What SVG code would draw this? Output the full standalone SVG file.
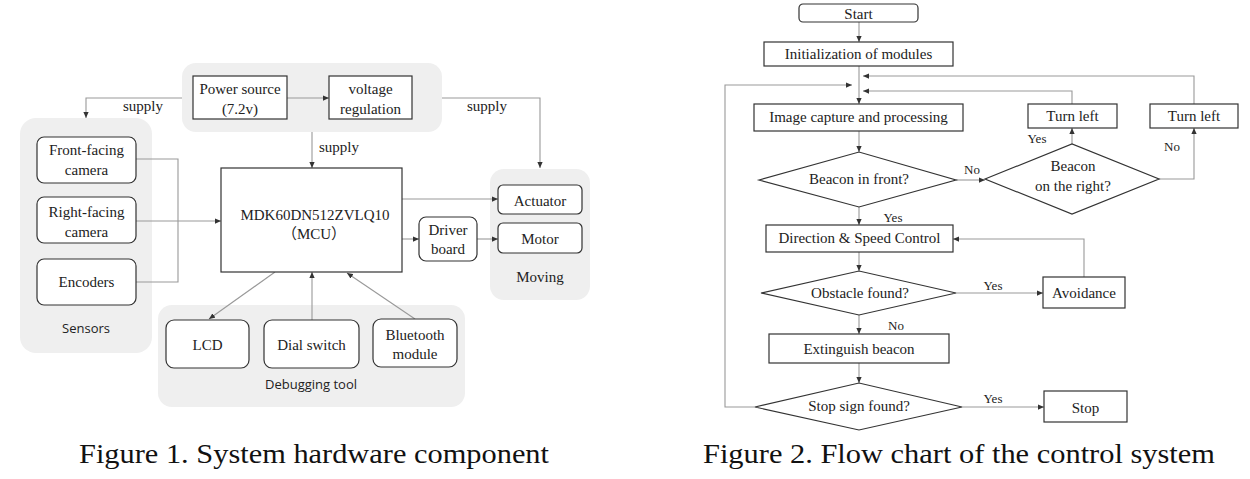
<svg xmlns="http://www.w3.org/2000/svg" width="1250" height="479" viewBox="0 0 1250 479">
<defs>
<style>
.bg{fill:#efefef;stroke:none}
.bx{fill:#fff;stroke:#333;stroke-width:1.2}
.ln{fill:none;stroke:#999;stroke-width:1.1}
.t{font-family:"Liberation Serif","Times New Roman",serif;font-size:15px;fill:#222;text-anchor:middle}
.s{font-family:"Open Sans","Liberation Sans",sans-serif;font-size:13px;fill:#222;text-anchor:middle}
.l{font-family:"Liberation Serif","Times New Roman",serif;font-size:13px;fill:#222}
.cap{font-family:"Liberation Serif","Times New Roman",serif;font-size:28px;fill:#111}
</style>
<marker id="ah" viewBox="0 0 8 8" refX="8" refY="4" markerWidth="6" markerHeight="6" markerUnits="userSpaceOnUse" orient="auto"><path d="M0,0.5 L8,4 L0,7.5 z" fill="#333"/></marker>
</defs>
<rect width="1250" height="479" fill="#fff"/>

<!-- Figure 1 groups -->
<g id="grp-power"><rect class="bg" x="182" y="63" width="260" height="69" rx="14"/></g>
<g id="grp-sensors"><rect class="bg" x="20" y="118" width="132" height="235" rx="16"/><text class="s" x="86" y="333">Sensors</text></g>
<g id="grp-moving"><rect class="bg" x="490" y="169" width="100" height="131" rx="14"/><text class="t" x="540" y="282">Moving</text></g>
<g id="grp-debug"><rect class="bg" x="158" y="305" width="307" height="102" rx="14"/><text class="s" x="311" y="389">Debugging tool</text></g>

<g id="connectors-fig1">
<path class="ln" d="M287,98 H329" marker-end="url(#ah)"/>
<path class="ln" d="M182,98 H86 V118" marker-end="url(#ah)"/>
<path class="ln" d="M442,98 H540 V168" marker-end="url(#ah)"/>
<path class="ln" d="M312,132 V168" marker-end="url(#ah)"/>
<path class="ln" d="M136,159 H178 V282 H136"/>
<path class="ln" d="M136,221 H221" marker-end="url(#ah)"/>
<path class="ln" d="M402,199 H498" marker-end="url(#ah)"/>
<path class="ln" d="M402,239 H419" marker-end="url(#ah)"/>
<path class="ln" d="M477,239 H498" marker-end="url(#ah)"/>
<path class="ln" d="M275,272 L209,319" marker-end="url(#ah)"/>
<path class="ln" d="M312,320 V272" marker-end="url(#ah)"/>
<path class="ln" d="M415,319 L347,273" marker-end="url(#ah)"/>
<text class="t" x="143" y="111">supply</text>
<text class="t" x="487" y="111">supply</text>
<text class="t" x="339" y="152">supply</text>
</g>

<g id="power-source"><rect class="bx" x="193" y="76" width="94" height="43"/><text class="t" x="240" y="94">Power source</text><text class="t" x="240" y="114">(7.2v)</text></g>
<g id="voltage-regulation"><rect class="bx" x="329" y="76" width="83" height="43"/><text class="t" x="370.5" y="94">voltage</text><text class="t" x="370.5" y="114">regulation</text></g>
<g id="mcu"><rect class="bx" x="221" y="168" width="181" height="104"/><text class="t" x="315" y="220">MDK60DN512ZVLQ10</text><text class="t" x="314" y="239" style="font-family:'Liberation Serif','Noto Sans CJK SC',serif">（MCU）</text></g>
<g id="front-camera"><rect class="bx" x="37" y="137" width="99" height="46" rx="7"/><text class="t" x="86.5" y="155">Front-facing</text><text class="t" x="86.5" y="175">camera</text></g>
<g id="right-camera"><rect class="bx" x="37" y="197" width="99" height="46" rx="7"/><text class="t" x="86.5" y="217">Right-facing</text><text class="t" x="86.5" y="237">camera</text></g>
<g id="encoders"><rect class="bx" x="37" y="259" width="99" height="46" rx="7"/><text class="t" x="86.5" y="287">Encoders</text></g>
<g id="actuator"><rect class="bx" x="498" y="185" width="84" height="29" rx="5"/><text class="t" x="540" y="206">Actuator</text></g>
<g id="motor"><rect class="bx" x="498" y="223" width="84" height="30" rx="5"/><text class="t" x="540" y="244">Motor</text></g>
<g id="driver-board"><rect class="bx" x="419" y="217" width="58" height="44" rx="7"/><text class="t" x="448" y="235">Driver</text><text class="t" x="448" y="254">board</text></g>
<g id="lcd"><rect class="bx" x="166" y="320" width="83" height="48" rx="8"/><text class="t" x="207.5" y="350">LCD</text></g>
<g id="dial-switch"><rect class="bx" x="264" y="320" width="95" height="48" rx="8"/><text class="t" x="311.5" y="350">Dial switch</text></g>
<g id="bluetooth"><rect class="bx" x="373" y="319" width="84" height="48" rx="8"/><text class="t" x="415" y="340">Bluetooth</text><text class="t" x="415" y="359">module</text></g>

<!-- Figure 2 -->
<g id="connectors-fig2">
<path class="ln" d="M859,22 V42" marker-end="url(#ah)"/>
<path class="ln" d="M859,66 V104" marker-end="url(#ah)"/>
<path class="ln" d="M1194,104 V76 H863" marker-end="url(#ah)"/>
<path class="ln" d="M1072,104 V91 H863" marker-end="url(#ah)"/>
<path class="ln" d="M755,407 H725 V85 H852" marker-end="url(#ah)"/>
<path class="ln" d="M859,131 V152" marker-end="url(#ah)"/>
<path class="ln" d="M956,180 H985" marker-end="url(#ah)"/>
<path class="ln" d="M1072,144 V128" marker-end="url(#ah)"/>
<path class="ln" d="M1159,179 H1194 V128" marker-end="url(#ah)"/>
<path class="ln" d="M859,207 V225" marker-end="url(#ah)"/>
<path class="ln" d="M1084,277 V239 H953" marker-end="url(#ah)"/>
<path class="ln" d="M859,252 V271" marker-end="url(#ah)"/>
<path class="ln" d="M956,293 H1043" marker-end="url(#ah)"/>
<path class="ln" d="M859,315 V334" marker-end="url(#ah)"/>
<path class="ln" d="M859,363 V383" marker-end="url(#ah)"/>
<path class="ln" d="M962,407 H1044" marker-end="url(#ah)"/>
<text class="l" x="972" y="174" text-anchor="middle">No</text>
<text class="l" x="1037" y="143" text-anchor="middle">Yes</text>
<text class="l" x="1172" y="151" text-anchor="middle">No</text>
<text class="l" x="893" y="222" text-anchor="middle">Yes</text>
<text class="l" x="993" y="290" text-anchor="middle">Yes</text>
<text class="l" x="896" y="330" text-anchor="middle">No</text>
<text class="l" x="993" y="403" text-anchor="middle">Yes</text>
</g>

<g id="start"><rect class="bx" x="799" y="4" width="119" height="18" rx="4"/><text class="t" x="858.5" y="18.5">Start</text></g>
<g id="init"><rect class="bx" x="764" y="42" width="189" height="24"/><text class="t" x="858.5" y="59">Initialization of modules</text></g>
<g id="image-capture"><rect class="bx" x="754" y="104" width="209" height="27"/><text class="t" x="858.5" y="122">Image capture and processing</text></g>
<g id="turn-left-1"><rect class="bx" x="1028" y="104" width="89" height="24"/><text class="t" x="1072.5" y="121">Turn left</text></g>
<g id="turn-left-2"><rect class="bx" x="1150" y="104" width="88" height="24"/><text class="t" x="1194" y="121">Turn left</text></g>
<g id="beacon-front"><polygon class="bx" points="759,180 859,152 956,180 859,207"/><text class="t" x="859" y="184">Beacon in front?</text></g>
<g id="beacon-right"><polygon class="bx" points="985,179 1072,144 1159,179 1072,214"/><text class="t" x="1073" y="171">Beacon</text><text class="t" x="1073" y="191">on the right?</text></g>
<g id="direction"><rect class="bx" x="766" y="225" width="187" height="27"/><text class="t" x="859.5" y="243">Direction &amp; Speed Control</text></g>
<g id="obstacle"><polygon class="bx" points="761,293 859,271 956,293 859,315"/><text class="t" x="860" y="298">Obstacle found?</text></g>
<g id="avoidance"><rect class="bx" x="1043" y="277" width="82" height="31"/><text class="t" x="1084" y="298">Avoidance</text></g>
<g id="extinguish"><rect class="bx" x="769" y="334" width="180" height="29"/><text class="t" x="859" y="354">Extinguish beacon</text></g>
<g id="stop-sign"><polygon class="bx" points="755,407 859,383 962,407 859,430"/><text class="t" x="859" y="411">Stop sign found?</text></g>
<g id="stop"><rect class="bx" x="1044" y="391" width="83" height="31"/><text class="t" x="1085.5" y="413">Stop</text></g>

<g id="captions">
<text class="cap" x="79" y="463" textLength="470" lengthAdjust="spacingAndGlyphs">Figure 1. System hardware component</text>
<text class="cap" x="703" y="463" textLength="512" lengthAdjust="spacingAndGlyphs">Figure 2. Flow chart of the control system</text>
</g>
</svg>
